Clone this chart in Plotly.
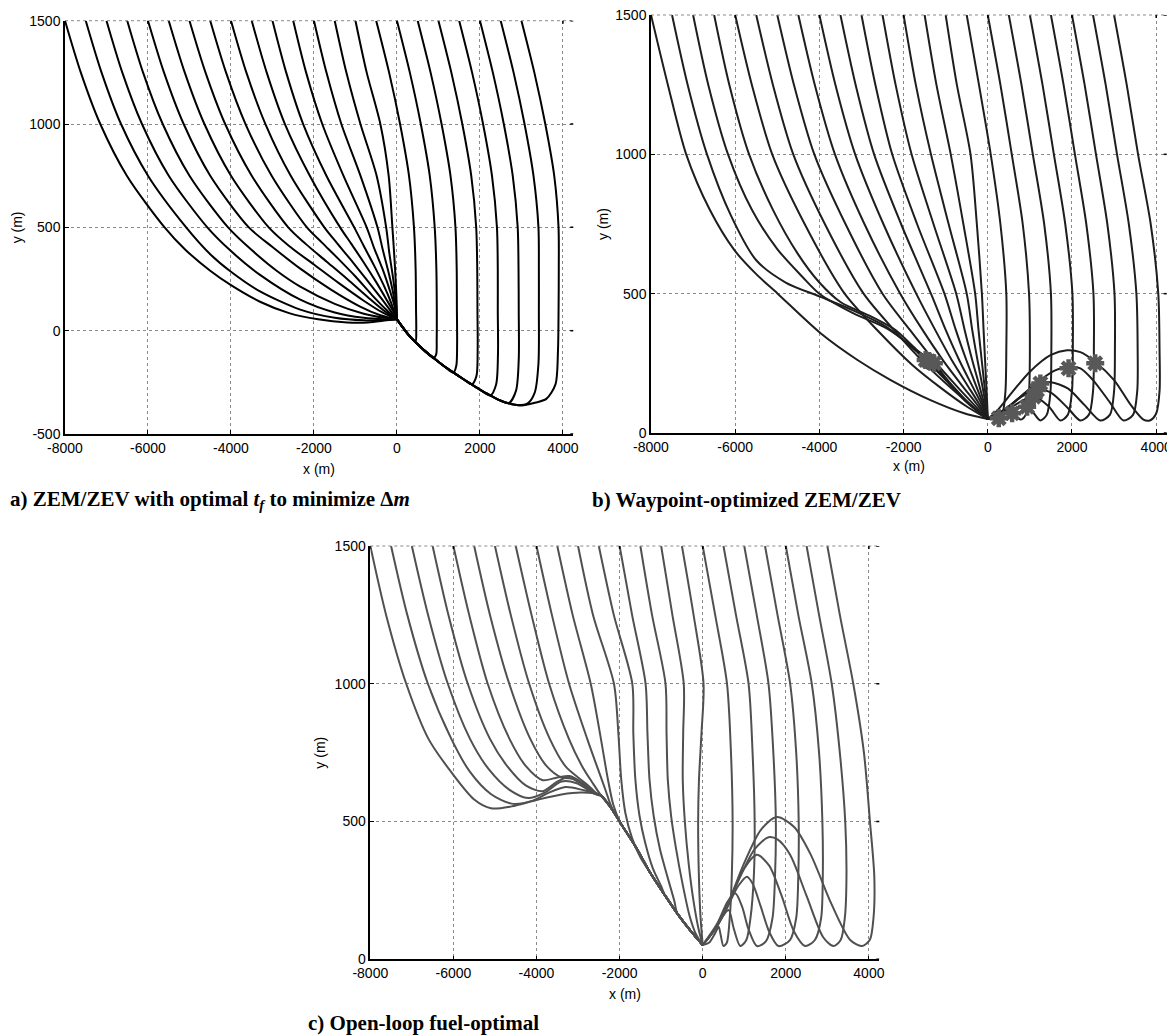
import plotly.graph_objects as go

# ---------------- Panel a: ZEM/ZEV optimal tf ----------------
A_X = [
    [-8000,-7620,-7150,-6510,-5600,-5100,-4500,-4000,-3300,-2600,-1900,-1200,-700,-250,0],
    [-7500,-7120,-6650,-6000,-5080,-4500,-4000,-3300,-2330,-1500,-800,-300,0],
    [-7000,-6620,-6145,-5500,-4570,-4000,-3300,-2330,-1500,-800,-300,0],
    [-6500,-6120,-5645,-5000,-4070,-3500,-2900,-2330,-1500,-800,-300,0],
    [-6000,-5615,-5140,-4500,-3570,-3000,-2330,-1600,-900,-400,0],
    [-5500,-5115,-4640,-4000,-3090,-2600,-2000,-1400,-800,-350,0],
    [-5000,-4615,-4140,-3500,-2620,-2200,-1700,-1200,-700,-300,0],
    [-4500,-4120,-3650,-3020,-2170,-1800,-1400,-1000,-600,-250,0],
    [-4000,-3630,-3170,-2560,-1750,-1450,-1100,-750,-400,-150,0],
    [-3500,-3140,-2700,-2100,-1370,-1100,-800,-500,-250,-80,0],
    [-3000,-2670,-2260,-1700,-1030,-800,-550,-320,-140,0],
    [-2500,-2190,-1800,-1290,-730,-550,-350,-180,-60,0],
    [-2000,-1700,-1340,-880,-470,-340,-200,-90,0],
    [-1500,-1220,-880,-490,-260,-180,-90,-30,0],
    [-1000,-730,-400,-200,-110,-60,-25,-5,0],
]
A_Y = [
    [1500,1250,1000,750,500,392,290,220,140,85,55,40,40,50,55],
    [1500,1250,1000,750,500,370,285,190,102,62,50,52,55],
    [1500,1250,1000,750,500,385,270,150,88,62,55,55],
    [1500,1250,1000,750,500,390,290,213,130,82,62,55],
    [1500,1250,1000,750,500,405,300,200,118,75,55],
    [1500,1250,1000,750,500,410,320,230,145,88,55],
    [1500,1250,1000,750,500,420,335,250,162,95,55],
    [1500,1250,1000,750,500,425,345,262,172,100,55],
    [1500,1250,1000,750,500,425,340,252,162,95,55],
    [1500,1250,1000,750,500,420,330,235,150,90,55],
    [1500,1250,1000,750,500,410,315,220,135,55],
    [1500,1250,1000,750,500,400,300,200,120,55],
    [1500,1250,1000,750,500,390,280,180,55],
    [1500,1250,1000,750,500,370,250,150,55],
    [1500,1250,1000,750,500,350,220,120,55],
]
# right-hand family: descent + bottom hook (then shared return path)
A_RX = [
    [-500,-190,75,290,410,450,460,465,450,380],
    [0,310,575,790,910,950,960,958,945,880],
    [500,810,1075,1290,1410,1440,1445,1450,1430,1360],
    [1000,1310,1575,1790,1910,1935,1940,1945,1915,1800],
    [1500,1810,2075,2290,2410,2430,2430,2435,2390,2250],
    [2000,2310,2575,2790,2910,2930,2935,2935,2870,2700],
    [2500,2810,3075,3290,3410,3420,3420,3410,3320,3150],
    [3000,3310,3575,3790,3894,3900,3895,3880,3820,3600,3300,3000],
]
A_RY = [
    [1500,1250,1000,750,500,300,100,0,-50,-42],
    [1500,1250,1000,750,500,300,100,-40,-115,-133],
    [1500,1250,1000,750,500,300,100,-60,-170,-203],
    [1500,1250,1000,750,500,300,100,-90,-220,-260],
    [1500,1250,1000,750,500,300,100,-110,-260,-313],
    [1500,1250,1000,750,500,300,100,-140,-290,-350],
    [1500,1250,1000,750,500,300,100,-160,-300,-352],
    [1500,1250,1000,750,500,300,100,-100,-260,-330,-350,-362],
]
A_RET_X = [2892,2700,2490,2250,2007,1800,1605,1400,1123,900,641,300,0]
A_RET_Y = [-360,-352,-338,-313,-286,-260,-235,-208,-170,-135,-92,-25,55]

# ---------------- Panel b: waypoint-optimized ----------------
B_X = [
    [-8000,-7600,-7164,-6600,-6019,-5500,-4991,-3964,-3095,-2306,-1360,-562,0],
    [-7500,-7130,-6670,-6100,-5500,-4800,-4000,-3200,-2400,-1900,-1476,-1000,-500,0],
    [-7000,-6640,-6170,-5600,-5000,-4400,-4000,-3200,-2400,-1800,-1380,-900,-450,0],
    [-6500,-6140,-5670,-5100,-4500,-4000,-3500,-2800,-2200,-1700,-1280,-850,-400,0],
    [-6000,-5605,-5120,-4350,-3400,-2600,-1800,-1100,-500,0],
    [-5500,-5105,-4620,-3870,-2950,-2200,-1500,-900,-400,0],
    [-5000,-4605,-4120,-3380,-2500,-1850,-1250,-750,-330,0],
    [-4500,-4110,-3630,-2930,-2080,-1550,-1050,-620,-270,0],
    [-4000,-3620,-3150,-2480,-1700,-1250,-850,-500,-220,0],
    [-3500,-3140,-2700,-2060,-1350,-1000,-680,-400,-170,0],
    [-3000,-2670,-2270,-1680,-1030,-760,-510,-300,-130,0],
    [-2500,-2190,-1810,-1290,-750,-550,-370,-215,-95,0],
    [-2000,-1710,-1350,-930,-500,-370,-245,-140,-60,0],
    [-1500,-1220,-880,-580,-300,-220,-145,-85,-35,0],
    [-1000,-735,-410,-260,-140,-100,-65,-37,-15,0],
]
B_Y = [
    [1500,1250,1000,800,656,570,500,357,262,190,118,71,50],
    [1500,1250,1000,780,620,540,490,440,380,320,262,190,110,50],
    [1500,1250,1000,800,660,560,500,430,375,310,256,180,105,50],
    [1500,1250,1000,800,640,540,470,420,370,300,250,170,100,50],
    [1500,1250,1000,750,500,365,245,160,95,50],
    [1500,1250,1000,750,500,365,250,165,100,50],
    [1500,1250,1000,750,500,370,255,170,102,50],
    [1500,1250,1000,750,500,370,258,172,105,50],
    [1500,1250,1000,750,500,370,260,175,108,50],
    [1500,1250,1000,750,500,370,262,178,110,50],
    [1500,1250,1000,750,500,370,262,178,110,50],
    [1500,1250,1000,750,500,370,262,178,110,50],
    [1500,1250,1000,750,500,370,262,178,110,50],
    [1500,1250,1000,750,500,370,262,178,110,50],
    [1500,1250,1000,750,500,370,262,178,110,50],
]
B_RX = [
    [-500,-210,70,300,440,440,420,350,261,0],
    [0,300,570,830,980,1000,980,900,775,578,300,0],
    [500,800,1070,1340,1500,1510,1490,1400,1249,1000,800,500,200,0],
    [1000,1300,1570,1840,2010,2020,2000,1900,1723,1450,1090,700,300,0],
    [1500,1800,2070,2340,2510,2520,2500,2400,2197,1900,1500,1170,800,400,0],
    [2000,2300,2570,2840,3010,3020,3000,2900,2670,2300,1900,1500,1249,900,500,200,0],
    [2500,2800,3070,3350,3530,3560,3550,3450,3223,2900,2500,2200,1919,1600,1200,700,300,0],
    [3000,3300,3570,3870,4050,4080,4080,4000,3850,3697,3400,3000,2552,2200,1881,1500,1000,600,250,0],
]
B_RY = [
    [1500,1250,1000,750,500,300,150,70,53,50],
    [1500,1250,1000,750,500,300,150,65,48,71,62,50],
    [1500,1250,1000,750,500,300,150,65,45,88,96,80,58,50],
    [1500,1250,1000,750,500,300,150,65,45,95,132,105,65,50],
    [1500,1250,1000,750,500,300,150,65,45,90,145,158,130,85,50],
    [1500,1250,1000,750,500,300,150,65,45,100,160,182,178,145,95,62,50],
    [1500,1250,1000,750,500,300,150,65,45,110,190,232,238,225,185,120,70,50],
    [1500,1250,1000,750,500,300,150,70,45,48,100,190,255,290,297,280,220,150,85,50],
]
B_STAR_X = [-1476,-1280,-1400,261,578,934,1090,1170,1249,1919,2552]
B_STAR_Y = [262,250,258,53,71,94,130,154,178,232,250]

# ---------------- Panel c: open-loop fuel-optimal ----------------
C_X = [
    [-8000,-7620,-7135,-6600,-6055,-5500,-5095,-4600,-4000,-3400,-2900],
    [-7500,-7110,-6614,-6050,-5600,-5100,-4600,-4100,-3700,-3300,-2900],
    [-7000,-6610,-6134,-5600,-5150,-4650,-4200,-3800,-3400,-3050,-2700],
    [-6500,-6120,-5654,-5120,-4700,-4250,-3850,-3500,-3250,-2950,-2650],
    [-6000,-5620,-5174,-4650,-4250,-3850,-3500,-3200,-2900,-2600],
    [-5500,-5120,-4656,-4150,-3750,-3400,-3100,-2800,-2550],
    [-5000,-4620,-4176,-3680,-3300,-3000,-2750,-2500],
    [-4500,-4120,-3696,-3220,-2900,-2650,-2450],
    [-4000,-3630,-3216,-2780,-2520,-2330,-2200],
    [-3500,-3130,-2695,-2450,-2290,-2150],
    [-3000,-2640,-2136,-2030,-1960,-1860,-1700,-1500],
    [-2500,-2140,-1694,-1670,-1620,-1520,-1380,-1200,-1000],
    [-2000,-1700,-1375,-1330,-1280,-1180,-1030,-850,-680],
    [-1500,-1220,-895,-870,-840,-760,-640,-480,-320,-160,0],
    [-1000,-730,-456,-470,-480,-430,-340,-220,-100,0],
    [-500,-220,20,-30,-90,-110,-95,-55,0],
]
C_Y = [
    [1500,1250,1000,800,680,580,548,555,578,598,605],
    [1500,1250,1000,800,680,600,565,575,605,625,615],
    [1500,1250,1000,800,690,615,585,605,645,640,610],
    [1500,1250,1000,800,700,630,610,645,660,640,605],
    [1500,1250,1000,800,700,650,660,665,640,600],
    [1500,1250,1000,800,700,660,655,630,598],
    [1500,1250,1000,800,700,660,630,595],
    [1500,1250,1000,800,700,640,595],
    [1500,1250,1000,800,690,610,555],
    [1500,1250,1000,800,660,560],
    [1500,1250,1000,820,651,530,440,370],
    [1500,1250,1000,820,651,520,420,330,265],
    [1500,1250,1000,820,651,520,400,300,210],
    [1500,1250,1000,820,651,520,400,270,160,90,52],
    [1500,1250,1000,820,651,500,350,210,110,52],
    [1500,1250,1000,820,651,500,320,160,52],
]
C_BAND_X = [-2455,-2200,-1975,-1600,-1255,-900,-614,-300,0]
C_BAND_Y = [595,548,494,405,312,230,167,105,52]
C_RX = [
    [0,300,585,680,720,700,650,580,500,430,384,300,150,0],
    [500,800,1104,1200,1250,1230,1150,1050,905,750,624,450,250,0],
    [1000,1300,1584,1700,1760,1740,1680,1520,1305,1100,950,784,600,350,0],
    [1500,1800,2105,2250,2310,2300,2250,2100,1823,1600,1400,1200,1065,850,500,250,0],
    [2000,2300,2625,2800,2880,2890,2850,2700,2465,2200,1900,1600,1305,1000,700,350,0],
    [2500,2800,3105,3300,3430,3460,3420,3320,3145,2900,2500,2100,1800,1583,1250,900,500,250,0],
    [3000,3300,3624,3880,4025,4130,4110,4020,3825,3550,3100,2600,2200,1784,1400,1000,600,300,0],
]
C_RY = [
    [1500,1250,1000,750,500,300,150,60,48,90,118,95,60,52],
    [1500,1250,1000,750,500,300,150,70,48,110,179,150,100,52],
    [1500,1250,1000,750,500,300,150,65,48,110,190,240,210,130,52],
    [1500,1250,1000,750,500,300,150,70,48,100,190,275,300,265,160,100,52],
    [1500,1250,1000,750,500,300,150,70,48,100,230,340,379,330,230,120,52],
    [1500,1250,1000,750,500,300,150,70,48,80,230,380,435,443,400,300,170,100,52],
    [1500,1250,1000,750,500,300,150,70,48,70,200,380,480,516,470,350,200,110,52],
]

X_TICKS = [-8000, -6000, -4000, -2000, 0, 2000, 4000]
YA_TICKS = [-500, 0, 500, 1000, 1500]
YBC_TICKS = [0, 500, 1000, 1500]

# the page body has an 8px margin; the figure is sized so it fills the window
OFF = 8
W, H = 1175 - OFF, 1036 - OFF
fig = go.Figure()

def add_line(x, y, color, xa, ya):
    fig.add_trace(go.Scatter(x=x, y=y, mode="lines", xaxis=xa, yaxis=ya,
                             line=dict(color=color, width=2, shape="spline", smoothing=0.8),
                             hoverinfo="skip", showlegend=False))

# panel a
for xs, ys in zip(A_X, A_Y):
    add_line(xs, ys, "#000000", "x", "y")
for xs, ys in zip(A_RX, A_RY):
    x_end = xs[-1]
    tx = [v for v in A_RET_X if v < x_end]
    ty = [A_RET_Y[j] for j, v in enumerate(A_RET_X) if v < x_end]
    add_line(xs + tx, ys + ty, "#000000", "x", "y")

# panel b
for xs, ys in zip(B_X, B_Y):
    add_line(xs, ys, "#1e1e1e", "x2", "y2")
for xs, ys in zip(B_RX, B_RY):
    add_line(xs, ys, "#1e1e1e", "x2", "y2")
fig.add_trace(go.Scatter(x=B_STAR_X, y=B_STAR_Y, mode="markers", xaxis="x2", yaxis="y2",
                         marker=dict(symbol="asterisk-open", size=15, color="#585858",
                                     line=dict(color="#585858", width=4.5)),
                         hoverinfo="skip", showlegend=False))

# panel c
for xs, ys in zip(C_X, C_Y):
    x_end = xs[-1]
    tx = [v for v in C_BAND_X if v > x_end]
    ty = [C_BAND_Y[j] for j, v in enumerate(C_BAND_X) if v > x_end]
    add_line(xs + tx, ys + ty, "#505050", "x3", "y3")
for xs, ys in zip(C_RX, C_RY):
    add_line(xs, ys, "#505050", "x3", "y3")

tickfont = dict(family="Liberation Sans, Arial", size=14, color="#000")

def xax(dom, anchor):
    return dict(domain=dom, anchor=anchor, range=[-8000, 4250], tickvals=X_TICKS,
                ticktext=[str(v) for v in X_TICKS], automargin=False, ticklabeloverflow="allow",
                ticks="inside", ticklen=4, tickcolor="#000", showline=True, linecolor="#000",
                linewidth=1.5, showgrid=True, gridcolor="#8a8a8a", griddash="dot", gridwidth=1,
                zeroline=False, tickfont=tickfont, fixedrange=True)

def yax(dom, anchor, rng, tv):
    return dict(domain=dom, anchor=anchor, range=rng, tickvals=tv,
                ticktext=[str(v) for v in tv], automargin=False, ticklabeloverflow="allow",
                ticks="inside", ticklen=4, tickcolor="#000", showline=True, linecolor="#000",
                linewidth=1.5, showgrid=True, gridcolor="#8a8a8a", griddash="dot", gridwidth=1,
                zeroline=False, tickfont=tickfont, fixedrange=True)

# pixel boxes in window coordinates (left, right, top, bottom)
PA = (65, 573.3, 20.7, 434)
PB = (651, 1166.7, 15, 433)
PC = (370.3, 879.3, 546, 959.3)

def dx(p):
    return [(p[0] - OFF) / W, (p[1] - OFF) / W]

def dy(p):
    return [1 - (p[3] - OFF) / H, 1 - (p[2] - OFF) / H]

fig.update_layout(
    template="none",
    width=W, height=H, margin=dict(l=0, r=0, t=0, b=0, pad=0, autoexpand=False),
    paper_bgcolor="white", plot_bgcolor="white", showlegend=False,
    xaxis=xax(dx(PA), "y"), yaxis=yax(dy(PA), "x", [-500, 1500], YA_TICKS),
    xaxis2=xax(dx(PB), "y2"), yaxis2=yax(dy(PB), "x2", [0, 1500], YBC_TICKS),
    xaxis3=xax(dx(PC), "y3"), yaxis3=yax(dy(PC), "x3", [0, 1500], YBC_TICKS),
)

# top border (dotted, like the grid) and small mirrored ticks on top/right edges
shapes = []
for xa, ya, box, yt in (("x", "y", PA, YA_TICKS), ("x2", "y2", PB, YBC_TICKS),
                        ("x3", "y3", PC, YBC_TICKS)):
    wpx = box[1] - box[0]
    hpx = box[3] - box[2]
    shapes.append(dict(type="line", xref=xa + " domain", yref=ya + " domain", x0=0, x1=1,
                       y0=1, y1=1, line=dict(color="#8a8a8a", width=1, dash="dot"), layer="above"))
    for v in yt:
        shapes.append(dict(type="line", xref=xa + " domain", yref=ya, x0=1 - 3 / wpx, x1=1,
                           y0=v, y1=v, line=dict(color="#000", width=1.5)))
    for v in X_TICKS:
        shapes.append(dict(type="line", xref=xa, yref=ya + " domain", x0=v, x1=v,
                           y0=1 - 3 / hpx, y1=1, line=dict(color="#000", width=1.5)))
fig.update_layout(shapes=shapes)

ann = []
def txt(x, y, s, size=14, family="Liberation Sans, Arial", angle=0, xanchor="center"):
    ann.append(dict(x=(x - OFF) / W, y=1 - (y - OFF) / H, xref="paper", yref="paper", text=s,
                    showarrow=False, font=dict(family=family, size=size, color="#000"),
                    textangle=angle, xanchor=xanchor, yanchor="middle"))

txt((PA[0] + PA[1]) / 2, 469, "x (m)")
txt((PB[0] + PB[1]) / 2, 466, "x (m)")
txt((PC[0] + PC[1]) / 2, 994, "x (m)")
txt(17, (PA[2] + PA[3]) / 2, "y (m)", angle=-90)
txt(603, (PB[2] + PB[3]) / 2, "y (m)", angle=-90)
txt(320, (PC[2] + PC[3]) / 2, "y (m)", angle=-90)

serif = "Liberation Serif, Times New Roman"
txt(8, 500, "<b>a) ZEM/ZEV with optimal <i>t</i><sub><i>f</i></sub> to minimize Δ<i>m</i></b>",
    size=21, family=serif, xanchor="left")
txt(590, 500, "<b>b) Waypoint-optimized ZEM/ZEV</b>", size=21, family=serif, xanchor="left")
txt(306, 1023, "<b>c) Open-loop fuel-optimal</b>", size=21, family=serif, xanchor="left")

fig.update_layout(annotations=ann)
fig.write_html("out.html")
